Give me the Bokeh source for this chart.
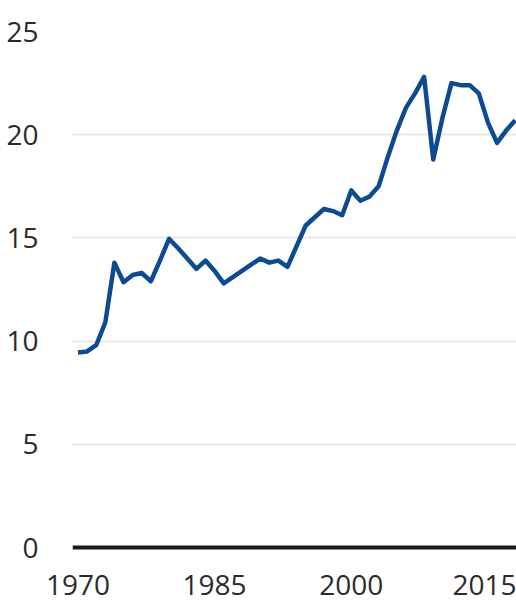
from bokeh.plotting import figure
from bokeh.models import FixedTicker, Span, Range1d
from bokeh.embed import file_html
from bokeh.resources import INLINE

years = list(range(1970, 2019))
values = [9.45, 9.5, 9.8, 10.9, 13.8, 12.85, 13.2, 13.3, 12.9, 13.9,
          14.95, 14.5, 14.0, 13.5, 13.9, 13.4, 12.8, 13.1, 13.4, 13.7,
          14.0, 13.8, 13.9, 13.6, 14.6, 15.6, 16.0, 16.4, 16.3, 16.1,
          17.3, 16.8, 17.0, 17.5, 18.9, 20.2, 21.3, 22.0, 22.8, 18.8,
          20.8, 22.5, 22.4, 22.4, 22.0, 20.6, 19.6, 20.2, 20.7]
x_ticks = [1970, 1985, 2000, 2015]
y_ticks = [0, 5, 10, 15, 20, 25]

FONT = "Open Sans"

p = figure(width=516, height=608, output_backend="svg", toolbar_location=None,
           x_range=Range1d(1969.4, 2018.14), y_range=Range1d(-0.145, 25),
           min_border_left=72, min_border_right=0, min_border_top=31,
           min_border_bottom=58)
p.outline_line_color = None
p.background_fill_color = "white"
p.border_fill_color = "white"

p.xgrid.grid_line_color = None
p.ygrid.ticker = FixedTicker(ticks=y_ticks)
p.ygrid.grid_line_color = "#e9e9e9"
p.ygrid.grid_line_width = 2

for ax in (p.xaxis[0], p.yaxis[0]):
    ax.axis_line_color = None
    ax.major_tick_line_color = None
    ax.minor_tick_line_color = None
    ax.major_tick_out = 0
    ax.major_tick_in = 0
    ax.major_label_text_font = FONT
    ax.major_label_text_font_size = "28px"
    ax.major_label_text_color = "#2b2b2b"

p.xaxis[0].ticker = FixedTicker(ticks=x_ticks)
p.yaxis[0].ticker = FixedTicker(ticks=y_ticks)
p.xaxis[0].major_label_standoff = 24
p.yaxis[0].major_label_standoff = 34

p.add_layout(Span(location=0, dimension="width", line_color="#1a1a1a", line_width=4))

p.line(years, values, line_color="#0c4a94", line_width=4.5, line_join="round")

open("out.html", "w").write(file_html(p, INLINE))
